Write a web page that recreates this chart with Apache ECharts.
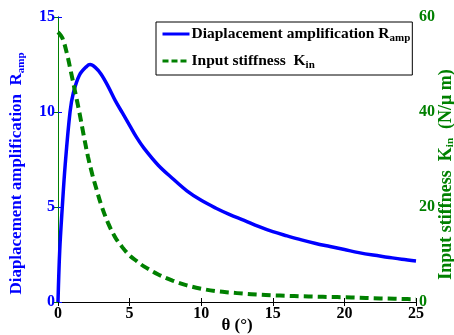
<!DOCTYPE html>
<html><head><meta charset="utf-8">
<script src="https://cdn.jsdelivr.net/npm/echarts@6/dist/echarts.min.js"></script>
<style>html,body{margin:0;padding:0;background:#fff}#c{width:454px;height:335px}</style>
</head><body><div id="c"></div>
<script>
const thetaAmp = [0,0.12,0.3,0.5,0.84,1.07,1.5,2.0,2.24,2.6,3.0,3.5,4,4.5,5,5.5,6,7,8,9,10,11,12,13,14,15,16,17,18,19,20,21,22,23,24,25];
const ampValues = [0,2.7,5.0,7.2,10.0,11.0,11.95,12.4,12.5,12.35,12.0,11.35,10.6,9.95,9.3,8.65,8.1,7.2,6.5,5.85,5.35,4.95,4.6,4.3,3.98,3.7,3.48,3.27,3.08,2.92,2.76,2.6,2.47,2.36,2.25,2.16];
const thetaK = [0,0.3,0.6,0.9,1.2,1.5,1.8,2.1,2.4,2.7,3.0,3.5,4,4.5,5,5.5,6,7,8,9,10,11,12,13,14,15,16,17,18,19,20,21,22,23,24,25];
const kValues = [56.8,55.6,52.6,48.5,44.2,39.8,35,30.5,26.8,23.6,20.6,16.6,13.6,11.5,9.8,8.6,7.5,5.8,4.5,3.5,2.8,2.3,2.0,1.75,1.55,1.4,1.3,1.2,1.12,1.05,1.0,0.9,0.8,0.72,0.64,0.57];
const xTicks = [0,5,10,15,20,25];
const seriesNames = ['Diaplacement amplification R_amp','Input stiffness  K_in'];

const pair = (xs, ys) => xs.map((x,i)=>[x, ys[i]]);
const F = '"Liberation Serif","Times New Roman",serif';
const blue = '#0000ff', green = '#008000';
const subRich = (c, fs) => ({
  n:{fontFamily:F,fontWeight:'bold',fontSize:fs,color:c,lineHeight:20},
  s:{fontFamily:F,fontWeight:'bold',fontSize:11,color:c,lineHeight:20,verticalAlign:'bottom',padding:[9,0,0,0]}
});

const chart = echarts.init(document.getElementById('c'));
chart.setOption({
  animation:false,
  backgroundColor:'#fff',
  grid:{left:58,right:38,top:17,bottom:33,outerBoundsMode:'none',containLabel:false},
  legend:{
    orient:'vertical', left:156, top:22,
    backgroundColor:'#fff', borderColor:'#000', borderWidth:1,
    padding:[2,2,4,5], itemGap:7, itemWidth:27, itemHeight:14,
    data:[
      {name:seriesNames[0], lineStyle:{type:'solid',width:3,color:blue}},
      {name:seriesNames[1], lineStyle:{type:[6,3],width:3,color:green}}
    ],
    itemStyle:{opacity:0},
    formatter:function(name){
      const p = name.split('_');
      return '{n|'+p[0]+'}{s|'+p[1]+'}';
    },
    textStyle:{
      color:'#000', fontFamily:F, fontWeight:'bold', fontSize:15.5,
      padding:[0,0,0,-3],
      rich:subRich('#000',15.5)
    }
  },
  xAxis:[{
    type:'value', min:0, max:25, interval:5,
    name:'θ (°)', nameLocation:'middle', nameGap:15, nameMoveOverlap:false,
    nameTextStyle:{fontFamily:F,fontWeight:'bold',fontSize:17,color:'#000'},
    axisLine:{show:true,onZero:false,lineStyle:{color:'#000',width:1}},
    axisTick:{inside:true,length:4,lineStyle:{color:'#000'}},
    axisLabel:{fontFamily:F,fontWeight:'bold',fontSize:16,color:'#000',margin:4,
      formatter:v=>xTicks.includes(v)?String(v):''},
    splitLine:{show:false}
  },{
    type:'value', min:0, max:25, interval:5, position:'top',
    axisLine:{show:true,lineStyle:{color:'#000',width:1}},
    axisTick:{inside:true,length:4,lineStyle:{color:'#000'}},
    axisLabel:{show:false}, splitLine:{show:false}
  }],
  yAxis:[{
    type:'value', min:0, max:15, interval:5, position:'left',
    name:'{n|Diaplacement amplification  R}{s|amp}', nameLocation:'middle', nameGap:31, nameRotate:90, nameMoveOverlap:false,
    nameTextStyle:{fontFamily:F,fontWeight:'bold',fontSize:17,color:blue,padding:[0,28,0,0],rich:subRich(blue,17)},
    axisLine:{show:true,lineStyle:{color:blue,width:1}},
    axisTick:{inside:true,length:4,lineStyle:{color:blue}},
    axisLabel:{fontFamily:F,fontWeight:'bold',fontSize:16,color:blue,margin:3},
    splitLine:{show:false}
  },{
    type:'value', min:0, max:60, interval:20, position:'right',
    name:'{n|Input stiffness  K}{s|in}{n|  (N/μ m)}', nameLocation:'middle', nameGap:20, nameRotate:90, nameMoveOverlap:false,
    nameTextStyle:{fontFamily:F,fontWeight:'bold',fontSize:18,color:green,padding:[0,30,0,0],rich:subRich(green,18)},
    axisLine:{show:true,lineStyle:{color:green,width:1}},
    axisTick:{inside:true,length:4,lineStyle:{color:green}},
    axisLabel:{fontFamily:F,fontWeight:'bold',fontSize:16,color:green,margin:3},
    splitLine:{show:false}
  }],
  series:[{
    name:seriesNames[0], type:'line', xAxisIndex:0, yAxisIndex:0,
    data:pair(thetaAmp, ampValues), smooth:0.35, showSymbol:false, symbol:'none',
    lineStyle:{color:blue,width:3.5}, itemStyle:{color:blue}
  },{
    name:seriesNames[1], type:'line', xAxisIndex:0, yAxisIndex:1,
    data:pair(thetaK, kValues), smooth:0.35, showSymbol:false, symbol:'none',
    lineStyle:{color:green,width:4,type:[9,5]}, itemStyle:{color:green}
  }]
});
</script></body></html>
